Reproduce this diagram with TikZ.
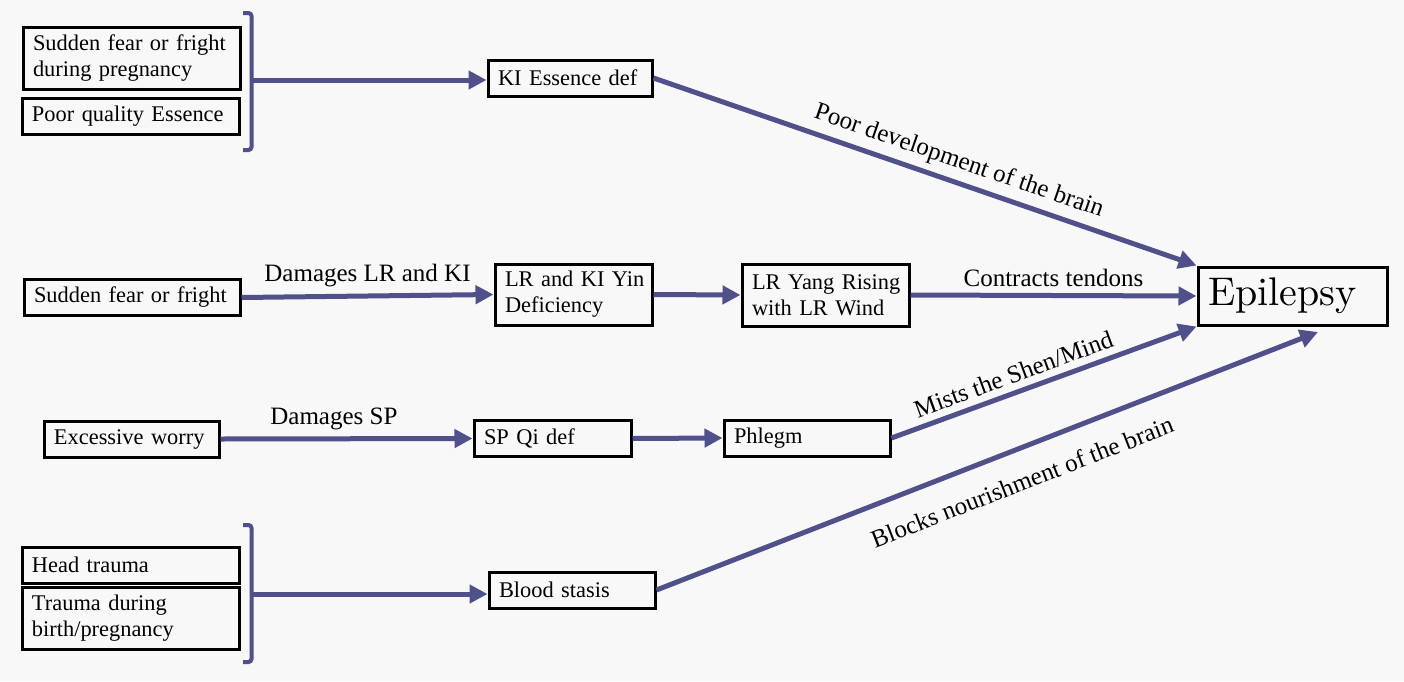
\documentclass[tikz,border=0pt]{standalone}
\usepackage{fontspec}
\usetikzlibrary{arrows.meta}
\newfontfamily\georgia{Liberation Serif}
\definecolor{arrowblue}{RGB}{80,80,138}
\definecolor{paper}{RGB}{248,248,248}

\begin{document}
\begin{tikzpicture}[x=0.5pt, y=-0.5pt,
  every node/.style={font=\georgia\fontsize{11.2}{13}\selectfont},
  box/.style={draw=black, line width=1.5pt, align=left, inner xsep=5pt, inner ysep=2pt, minimum height=18pt},
  flow/.style={draw=arrowblue, line width=2.5pt, -{Triangle[length=9pt, width=9pt]}},
  brace/.style={draw=arrowblue, line width=2pt, rounded corners=1.5pt},
  lbl/.style={font=\georgia\fontsize{12.5}{14}\selectfont}]

\fill[paper] (0,0) rectangle (1404,681);

% causes
\node[box, text width=98.5pt, minimum height=31pt] (pregfear) at (131.5,58) {\mbox{Sudden fear or fright}\\\mbox{during pregnancy}};
\node[box, text width=98.5pt] (poorjing) at (130.5,116.5) {\mbox{Poor quality Essence}};
\node[box, text width=98pt] (fright) at (132,297.5) {\mbox{Sudden fear or fright}};
\node[box, text width=77.5pt] (worry) at (131.5,439) {\mbox{Excessive worry}};
\node[box, text width=98.5pt] (headtr) at (130.5,565) {Head trauma};
\node[box, text width=98.5pt, minimum height=31pt] (birthtr) at (130.5,618) {\mbox{Trauma during}\\\mbox{birth/pregnancy}};

% patterns
\node[box, text width=72pt] (kiess) at (570,78) {\mbox{KI Essence def}};
\node[box, text width=68.5pt, minimum height=30.5pt] (yindef) at (573.5,294.5) {\mbox{LR and KI Yin}\\Deficiency};
\node[box, text width=73.5pt, minimum height=31pt] (yang) at (825.5,295) {\mbox{LR Yang Rising}\\\mbox{with LR Wind}};
\node[box, text width=68.5pt] (spqi) at (552.5,438.5) {\mbox{SP Qi def}};
\node[box, text width=73pt] (phlegm) at (807,438) {Phlegm};
\node[box, text width=73pt] (stasis) at (572,590) {\mbox{Blood stasis}};

\node[box, text width=84.5pt, minimum height=29pt, font=\fontsize{10}{12}\selectfont] (epi) at (1292.5,296) {\scalebox{2}{Epilepsy}};

% brackets
\draw[brace] (243,13) -- (251.5,13) -- (251.5,150) -- (243,150);
\coordinate (brk1) at (251.5,80);
\draw[brace] (243,525) -- (251.5,525) -- (251.5,662) -- (243,662);
\coordinate (brk2) at (251.5,594);
\coordinate (epifoot) at (1318,332);

% arrows
\draw[flow] (brk1) -- (brk1 -| kiess.west);
\draw[flow] (kiess.east) -- node[lbl, sloped, above, pos=0.55]{Poor development of the brain} (epi.north west);
\draw[flow] (fright.east) -- node[lbl, above]{Damages LR and KI} (yindef.west);
\draw[flow] (yindef.east) -- (yang.west);
\draw[flow] (yang.east) -- node[lbl, above]{Contracts tendons} (epi.west);
\draw[flow] (worry.east) -- node[lbl, above, pos=0.45]{Damages SP} (spqi.west);
\draw[flow] (spqi.east) -- (phlegm.west);
\draw[flow] (phlegm.east) -- node[lbl, sloped, above, pos=0.42]{Mists the Shen/Mind} (epi.south west);
\draw[flow] (brk2) -- (brk2 -| stasis.west);
\draw[flow] (stasis.east) -- node[lbl, sloped, below=7pt, pos=0.535]{Blocks nourishment of the brain} (epifoot);
\end{tikzpicture}
\end{document}
